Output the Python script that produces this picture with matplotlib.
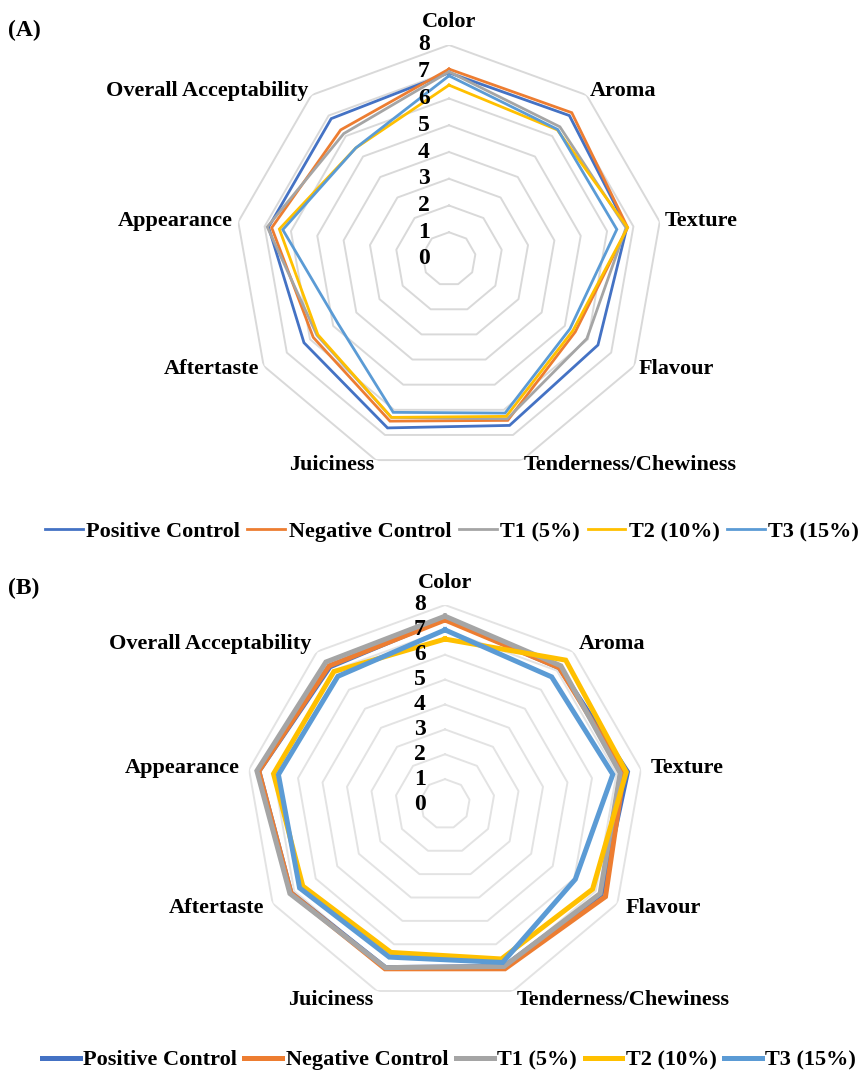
import numpy as np
import matplotlib
matplotlib.use("Agg")
import matplotlib.pyplot as plt
import matplotlib.transforms as mtransforms

categories = ["Color", "Aroma", "Texture", "Flavour", "Tenderness/Chewiness",
              "Juiciness", "Aftertaste", "Appearance", "Overall Acceptability"]
series_names = ["Positive Control", "Negative Control", "T1 (5%)", "T2 (10%)", "T3 (15%)"]
colors = ["#4472C4", "#ED7D31", "#A5A5A5", "#FFC000", "#5B9BD5"]

# Panel A values
a_pc = [6.96, 7.00, 6.75, 6.43, 6.62, 6.72, 6.26, 6.85, 6.85]
a_nc = [7.10, 7.14, 6.78, 5.45, 6.42, 6.45, 5.86, 6.73, 6.30]
a_t1 = [7.00, 6.45, 6.72, 5.95, 6.36, 6.30, 5.70, 6.90, 6.12]
a_t2 = [6.50, 6.30, 6.78, 5.35, 6.26, 6.30, 5.66, 6.44, 5.42]
a_t3 = [6.85, 6.32, 6.37, 5.22, 6.13, 6.10, 4.80, 6.31, 5.42]

# Panel B values
b_pc = [7.45, 7.15, 7.45, 7.25, 6.95, 7.00, 7.15, 7.60, 7.20]
b_nc = [7.40, 7.15, 7.30, 7.45, 7.05, 7.05, 7.15, 7.60, 7.25]
b_t1 = [7.55, 7.25, 7.15, 7.20, 6.95, 7.00, 7.20, 7.68, 7.45]
b_t2 = [6.63, 7.55, 7.40, 6.85, 6.63, 6.35, 6.60, 7.00, 6.95]
b_t3 = [7.00, 6.67, 6.85, 6.05, 6.78, 6.55, 6.75, 6.80, 6.70]

radial_ticks = [0, 1, 2, 3, 4, 5, 6, 7, 8]

W, H = 862, 1075
fig = plt.figure(figsize=(W / 100, H / 100), dpi=100)
FONT = dict(family="Liberation Serif", weight="bold")

n = len(categories)
theta = np.linspace(0, 2 * np.pi, n, endpoint=False)
theta_closed = np.concatenate([theta, theta[:1]])


def radar(cx, cy, R, data, lw, label_r, color_r, grid_color):
    ax = fig.add_axes([(cx - R) / W, (H - cy - R) / H, 2 * R / W, 2 * R / H],
                      projection="polar")
    ax.set_theta_zero_location("N")
    ax.set_theta_direction(-1)
    ax.set_ylim(0, 8)
    ax.grid(False)
    ax.spines["polar"].set_visible(False)
    ax.set_xticks([])
    ax.set_yticks([])
    ax.patch.set_alpha(0)
    for r in radial_ticks[1:]:
        ax.plot(theta_closed, [r] * (n + 1), color=grid_color, lw=1.4, zorder=1)
    handles = []
    for vals, name, c in zip(data, series_names, colors):
        v = list(vals) + [vals[0]]
        h, = ax.plot(theta_closed, v, color=c, lw=lw, label=name, zorder=3,
                     solid_joinstyle="miter")
        handles.append(h)
    off = mtransforms.offset_copy(ax.transData, fig=fig, x=-14, y=0, units="points")
    for r in radial_ticks:
        ax.text(0, r, str(r), transform=off, ha="right", va="center",
                fontsize=17, **FONT, zorder=5)
    for t, lab in zip(theta, categories):
        deg = np.degrees(t)
        if deg == 0:
            ax.text(t, color_r, lab, ha="center", va="center", fontsize=16, **FONT)
        elif deg < 180:
            ax.text(t, label_r, lab, ha="left", va="center", fontsize=16, **FONT)
        else:
            ax.text(t, label_r, lab, ha="right", va="center", fontsize=16, **FONT)
    return ax, handles


axA, hA = radar(449, 259, 214, [a_pc, a_nc, a_t1, a_t2, a_t3], 2.0, 8.2, 8.85, "#D9D9D9")
axB, hB = radar(445, 804, 199, [b_pc, b_nc, b_t1, b_t2, b_t3], 3.6, 8.38, 8.9, "#E3E3E3")

legkw = dict(loc="center", ncol=5, frameon=False, prop=dict(family="Liberation Serif",
             weight="bold", size=16), handlelength=1.7, handletextpad=0.15,
             columnspacing=0.35)
fig.legend(handles=hA, bbox_to_anchor=(452 / W, 1 - 532 / H), **legkw)
fig.legend(handles=hB, bbox_to_anchor=(449 / W, 1 - 1060 / H), **legkw)

fig.text(8 / W, 1 - 30 / H, "(A)", ha="left", va="center", fontsize=17, **FONT)
fig.text(8 / W, 1 - 588 / H, "(B)", ha="left", va="center", fontsize=17, **FONT)

fig.savefig("out.png", dpi=100, facecolor="white")
